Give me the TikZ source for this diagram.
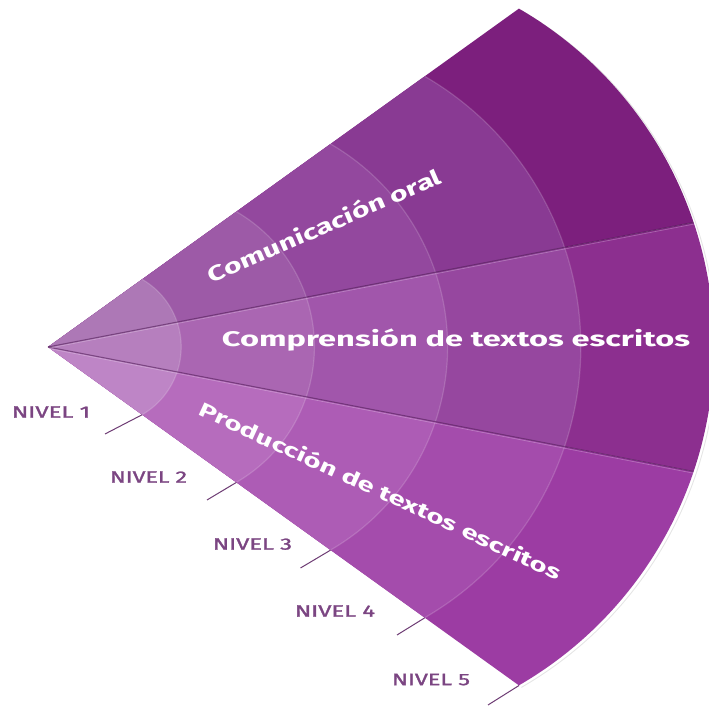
\documentclass[tikz,border=0pt]{standalone}
\usepackage{fontspec}
\setmainfont{Fira Sans}
\newfontfamily\nivfont[FakeBold=1.3]{Fira Sans}
\usepackage{graphicx}
\newcommand\fitbox[3]{\resizebox{#1}{#2}{\smash{#3}\vphantom{C}}}
\definecolor{a1}{HTML}{AD78B6}
\definecolor{a2}{HTML}{9D5AA7}
\definecolor{a3}{HTML}{93489E}
\definecolor{a4}{HTML}{893A93}
\definecolor{a5}{HTML}{7C1F7D}
\definecolor{b1}{HTML}{B67FBE}
\definecolor{b2}{HTML}{AA66B2}
\definecolor{b3}{HTML}{A156AB}
\definecolor{b4}{HTML}{96479F}
\definecolor{b5}{HTML}{8C2F8F}
\definecolor{c1}{HTML}{BE85C6}
\definecolor{c2}{HTML}{B66CBD}
\definecolor{c3}{HTML}{AD5CB5}
\definecolor{c4}{HTML}{A44CAC}
\definecolor{c5}{HTML}{9C3CA3}
\definecolor{nivelcol}{HTML}{7B4582}
\definecolor{tickcol}{HTML}{6E3C74}
\definecolor{foldcol}{HTML}{4A1A50}
\newcommand\fanring[4]{%
  \begin{scope}[shift={(apex)},scale=#1]
    \fill[#2] (0,0) -- ([shift={(55,0)}]18.57:78.2) arc[start angle=18.57,end angle=59.93,radius=78.2] -- cycle;
    \fill[#3] (0,0) -- ([shift={(55,0)}]-18.57:78.2) arc[start angle=-18.57,end angle=18.57,radius=78.2] -- cycle;
    \fill[#4] (0,0) -- ([shift={(55,0)}]-59.93:78.2) arc[start angle=-59.93,end angle=-18.57,radius=78.2] -- cycle;
  \end{scope}}
\newcommand\ringedge[1]{%
  \begin{scope}[shift={(apex)},scale=#1]
    \draw[ringline] ([shift={(55,0)}]-59.93:78.2) arc[start angle=-59.93,end angle=59.93,radius=78.2];
  \end{scope}}
\begin{document}
\begin{tikzpicture}[x=1pt,y=1pt,
  ringline/.style={white,opacity=0.16,line width=1.2pt},
  foldline/.style={foldcol,opacity=0.55,line width=1.1pt},
  foldlight/.style={white,opacity=0.28,line width=0.6pt},
  ticklabel/.style={text=nivelcol,inner sep=0pt,anchor=center,font=\nivfont},
  tickline/.style={draw=tickcol,line width=1pt},
  title/.style={text=white,inner sep=0pt,anchor=base,font=\bfseries}]
\useasboundingbox (0,0) rectangle (709,706);
\fill[white] (0,0) rectangle (709,706);
\coordinate (apex) at (48,359);
% soft shadow along the outer edge
\begin{scope}[shift={(apex)},scale=5]
  \draw[black,opacity=0.10,line width=0.9pt] ([shift={(55.5,-0.4)}]-59.93:78.2) arc[start angle=-59.93,end angle=59.93,radius=78.2];
\end{scope}
\fanring{5}{a5}{b5}{c5}
\fanring{4}{a4}{b4}{c4}
\fanring{3}{a3}{b3}{c3}
\fanring{2}{a2}{b2}{c2}
\fanring{1}{a1}{b1}{c1}
\ringedge{1}
\ringedge{2}
\ringedge{3}
\ringedge{4}
% folds between the three sectors
\coordinate (d1) at (693.5,483.5);
\coordinate (d2) at (693.5,234.5);
\coordinate (d1l) at (693.5,481.8);
\coordinate (d2l) at (693.5,232.8);
\coordinate (apexl) at (48,357.6);
\draw[foldline] (apex) -- (d1);
\draw[foldline] (apex) -- (d2);
\draw[foldlight] (apexl) -- (d1l);
\draw[foldlight] (apexl) -- (d2l);
% titles
\node[title,rotate=23.5] (t1) at (327.5,473) {\fitbox{252pt}{15pt}{Comunicación oral}};
\node[title] (t2) at (456,359) {\fitbox{468pt}{15pt}{Comprensión de textos escritos}};
\node[title,rotate=-24.7] (t3) at (377.5,208.5) {\fitbox{396pt}{14pt}{Producción de textos escritos}};
% level ticks
\coordinate (e1) at (142.2,291.3); \coordinate (f1) at (105,272);
\coordinate (e2) at (236.4,223.6); \coordinate (f2) at (207,206);
\coordinate (e3) at (330.6,155.9); \coordinate (f3) at (300.5,138);
\coordinate (e4) at (424.8,88.2);  \coordinate (f4) at (397,71);
\coordinate (e5) at (519,20.5);    \coordinate (f5) at (488,1);
\foreach \i in {1,...,5} {\draw[tickline] (e\i) -- (f\i);}
% level labels
\node[ticklabel] (n1) at (51,294)    {\fitbox{78pt}{11.5pt}{NIVEL 1}};
\node[ticklabel] (n2) at (148.5,229) {\fitbox{77pt}{11.5pt}{NIVEL 2}};
\node[ticklabel] (n3) at (252.5,162) {\fitbox{79pt}{11.5pt}{NIVEL 3}};
\node[ticklabel] (n4) at (335,95)    {\fitbox{80pt}{11.5pt}{NIVEL 4}};
\node[ticklabel] (n5) at (431,26.5)  {\fitbox{78pt}{11.5pt}{NIVEL 5}};
\end{tikzpicture}
\end{document}
